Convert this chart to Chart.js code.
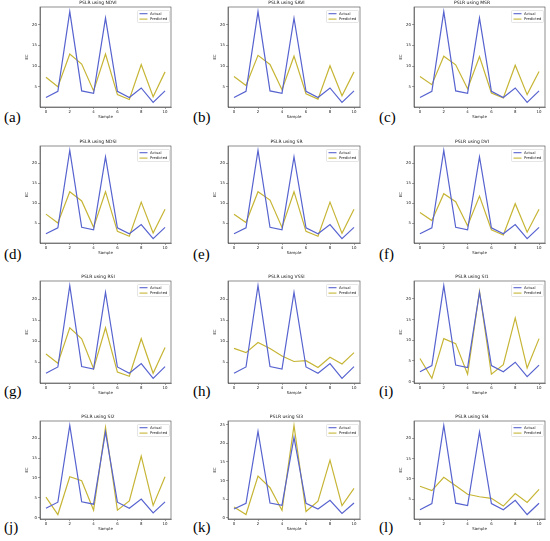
<!DOCTYPE html>
<html>
<head>
<meta charset="utf-8">
<script src="https://cdn.jsdelivr.net/npm/chart.js@4.4.1/dist/chart.umd.min.js"></script>
<style>
    html, body { margin: 0; padding: 0; background: #fff; overflow: hidden; }
    #fig { position: relative; width: 550px; height: 541px; }
    #fig canvas { position: absolute; }
    .panel-label {
        position: absolute;
        font-family: 'Liberation Serif', 'DejaVu Serif', serif;
        font-size: 15px;
        line-height: 1;
        color: #000;
    }
</style>
</head>
<body>
<div id="fig"></div>
<script>
/**
 * PSLR actual vs predicted EC, one panel per index
 */
const samples = [0, 1, 2, 3, 4, 5, 6, 7, 8, 9, 10];
const actual = [2.4, 3.9, 23.2, 4.0, 3.4, 21.6, 3.9, 2.4, 4.7, 1.2, 4.0];

const predNDVI = [7.3, 5.0, 12.9, 10.5, 4.0, 12.9, 3.1, 1.9, 10.4, 2.6, 8.6];
const predSAVI = [7.5, 5.3, 12.6, 10.4, 4.3, 12.4, 3.3, 2.0, 10.1, 2.8, 8.6];
const predMSR  = [7.5, 5.5, 12.4, 10.3, 4.5, 12.3, 3.5, 2.3, 10.2, 3.1, 8.7];
const predNDSI = [7.3, 5.1, 12.9, 10.6, 4.0, 12.9, 3.0, 1.8, 10.3, 2.6, 8.5];
const predSR   = [7.3, 5.2, 12.9, 10.8, 4.0, 12.9, 3.0, 1.8, 10.3, 2.5, 8.5];
const predDVI  = [7.7, 5.7, 12.4, 10.4, 4.4, 11.8, 3.4, 2.1, 9.9, 2.8, 8.5];
const predRSI  = [7.0, 4.8, 13.2, 10.6, 3.5, 13.2, 2.7, 1.7, 10.6, 2.4, 8.5];
const predVSSI = [8.3, 7.3, 9.7, 8.3, 6.5, 5.2, 5.4, 3.8, 6.2, 4.6, 7.3];
const predSI1  = [5.6, 0.8, 10.4, 9.2, 1.8, 21.8, 1.8, 4.1, 15.4, 3.3, 10.4];
const predSI2  = [5.2, 0.8, 10.3, 9.3, 1.9, 22.7, 1.9, 4.2, 15.5, 3.1, 10.3];
const predSI3  = [2.9, 0.9, 11.2, 8.1, 2.0, 24.8, 1.7, 4.5, 15.5, 3.3, 7.9];
const predSI4  = [8.2, 7.1, 10.4, 8.3, 6.2, 5.6, 5.2, 3.3, 6.4, 4.2, 7.4];

const indexNames = ['NDVI', 'SAVI', 'MSR', 'NDSI', 'SR', 'DVI', 'RSI', 'VSSI', 'SI1', 'SI2', 'SI3', 'SI4'];
const predicted = [predNDVI, predSAVI, predMSR, predNDSI, predSR, predDVI,
                   predRSI, predVSSI, predSI1, predSI2, predSI3, predSI4];
const panelLabels = ['(a)', '(b)', '(c)', '(d)', '(e)', '(f)', '(g)', '(h)', '(i)', '(j)', '(k)', '(l)'];
const yTickStep = 5;
const xTicks = [0, 2, 4, 6, 8, 10];

// grid geometry (plot area of each panel)
const colLeft = [40, 228, 414], colRight = [171, 360, 545];
const rowTop = [7, 146, 281, 421], rowBottom = [107, 243, 383, 519];
const labelLeft = [4, 193, 379], labelTop = [110, 247, 384, 520];
const YW = 15, XH = 12, TH = 7, PR = 4;

const ACTUAL_COLOR = '#5763cf';
const PRED_COLOR = '#c6b535';
const FONT = "'DejaVu Sans', sans-serif";

// draws the matplotlib-style legend box inside the axes and the full frame
const insideLegend = {
    id: 'insideLegend',
    afterDatasetsDraw(chart) {
        const { ctx, chartArea } = chart;
        const sets = chart.data.datasets;
        const w = 32, h = 12;
        const x = chartArea.right - w - 1.5, y = chartArea.top + 3.5;
        ctx.save();
        ctx.fillStyle = 'rgba(255,255,255,0.85)';
        ctx.strokeStyle = '#d4d4d4';
        ctx.lineWidth = 0.6;
        ctx.beginPath();
        ctx.roundRect(x, y, w, h, 1);
        ctx.fill();
        ctx.stroke();
        ctx.font = '3.7px ' + FONT;
        ctx.textBaseline = 'middle';
        sets.forEach((ds, i) => {
            const ly = y + 3.2 + i * 5.4;
            ctx.strokeStyle = ds.borderColor;
            ctx.lineWidth = 1.1;
            ctx.beginPath();
            ctx.moveTo(x + 2, ly);
            ctx.lineTo(x + 10, ly);
            ctx.stroke();
            ctx.fillStyle = '#222';
            ctx.fillText(ds.label, x + 12.5, ly);
        });
        ctx.strokeStyle = '#444';
        ctx.lineWidth = 0.6;
        ctx.strokeRect(chartArea.left, chartArea.top,
            chartArea.right - chartArea.left, chartArea.bottom - chartArea.top);
        ctx.restore();
    }
};

function toPoints(values) {
    return samples.map((s, i) => ({ x: s, y: values[i] }));
}

function createPanel(k) {
    const fig = document.getElementById('fig');
    const row = Math.floor(k / 3), col = k % 3;
    const pw = colRight[col] - colLeft[col];
    const ph = rowBottom[row] - rowTop[row];

    const canvas = document.createElement('canvas');
    canvas.width = pw + YW + PR;
    canvas.height = ph + TH + XH;
    canvas.style.left = (colLeft[col] - YW) + 'px';
    canvas.style.top = (rowTop[row] - TH) + 'px';
    canvas.style.width = canvas.width + 'px';
    canvas.style.height = canvas.height + 'px';
    fig.appendChild(canvas);

    const label = document.createElement('div');
    label.className = 'panel-label';
    label.textContent = panelLabels[k];
    label.style.left = labelLeft[col] + 'px';
    label.style.top = labelTop[row] + 'px';
    fig.appendChild(label);

    // matplotlib-like auto limits: 5% margin around the data
    const all = actual.concat(predicted[k]);
    const lo = Math.min(...all), hi = Math.max(...all);
    const pad = 0.05 * (hi - lo);
    const yMin = lo - pad, yMax = hi + pad;

    const axisCommon = {
        grid: { display: true, drawOnChartArea: false, drawTicks: true, tickLength: 2, color: '#444', lineWidth: 0.5 },
        border: { display: true, color: '#444', width: 0.6 },
        ticks: { color: '#222', font: { family: FONT, size: 3.9 }, padding: 1, maxRotation: 0, autoSkip: false }
    };

    new Chart(canvas.getContext('2d'), {
        type: 'line',
        data: {
            datasets: [{
                label: 'Actual',
                data: toPoints(actual),
                borderColor: ACTUAL_COLOR,
                borderWidth: 1.2,
                pointRadius: 0,
                tension: 0
            }, {
                label: 'Predicted',
                data: toPoints(predicted[k]),
                borderColor: PRED_COLOR,
                borderWidth: 1.2,
                pointRadius: 0,
                tension: 0
            }]
        },
        options: {
            responsive: false,
            animation: false,
            layout: { padding: { left: 0, right: PR, top: 0, bottom: 0 } },
            plugins: {
                legend: { display: false },
                tooltip: { enabled: false },
                title: {
                    display: true,
                    text: 'PSLR using ' + indexNames[k],
                    color: '#111',
                    font: { family: FONT, size: 4.5, weight: 'normal' },
                    padding: { top: 0, bottom: 1.6 }
                }
            },
            scales: {
                x: {
                    ...axisCommon,
                    type: 'linear',
                    min: -0.5,
                    max: 10.5,
                    afterBuildTicks: (scale) => { scale.ticks = xTicks.map(v => ({ value: v })); },
                    afterFit: (scale) => { scale.height = XH; },
                    ticks: { ...axisCommon.ticks, callback: (v) => String(v) },
                    title: { display: true, text: 'Sample', color: '#222', font: { family: FONT, size: 3.9 }, padding: { top: 0, bottom: 0 } }
                },
                y: {
                    ...axisCommon,
                    min: yMin,
                    max: yMax,
                    afterBuildTicks: (scale) => {
                        const ticks = [];
                        for (let v = Math.ceil(yMin / yTickStep) * yTickStep; v <= yMax; v += yTickStep) {
                            ticks.push({ value: v });
                        }
                        scale.ticks = ticks;
                    },
                    afterFit: (scale) => { scale.width = YW; },
                    ticks: { ...axisCommon.ticks, callback: (v) => String(v) },
                    title: { display: true, text: 'EC', color: '#222', font: { family: FONT, size: 3.9 }, padding: { top: 0, bottom: 0 } }
                }
            }
        },
        plugins: [insideLegend]
    });
}

function init() {
    for (let k = 0; k < indexNames.length; k++) {
        createPanel(k);
    }
}

init();
</script>
</body>
</html>
